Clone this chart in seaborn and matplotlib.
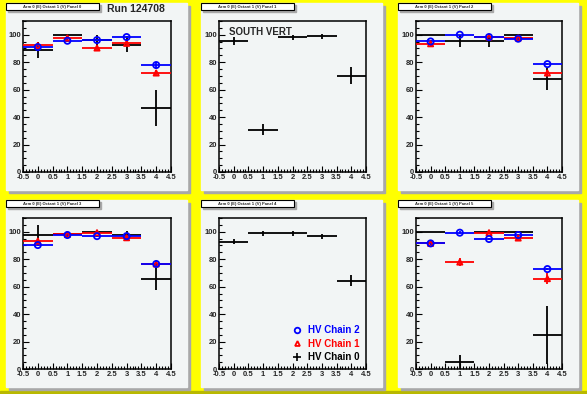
import numpy as np
import pandas as pd
import seaborn as sns
import matplotlib.pyplot as plt
from matplotlib.patches import Rectangle
from matplotlib.lines import Line2D
from matplotlib.ticker import MultipleLocator

# bin centres and axis labels
bins = [0, 1, 2, 3, 4]
x_ticks = [-0.5, 0, 0.5, 1, 1.5, 2, 2.5, 3, 3.5, 4, 4.5]
x_labels = ["-0.5", "0", "0.5", "1", "1.5", "2", "2.5", "3", "3.5", "4", "4.5"]
y_ticks = [0, 20, 40, 60, 80, 100]
pad_titles = ["Arm 0 (E) Octant 1 (V) Panel %d" % i for i in range(6)]
chain_labels = ["HV Chain 2", "HV Chain 1", "HV Chain 0"]

# HV chain 0 (black), one row per panel
chain0 = [[89.0, 100.0, 96.0, 92.7, 46.6],
          [95.6, 30.7, 98.0, 98.8, 70.2],
          [100.0, 95.4, 95.4, 100.0, 67.7],
          [97.6, 98.0, 100.0, 97.6, 65.5],
          [92.7, 98.8, 98.8, 96.6, 64.4],
          [100.0, 5.3, 100.0, 100.0, 24.8]]
chain0_err = [[6, 0, 4, 5, 13],
              [3, 4, 2, 2, 6],
              [0, 4.4, 4.4, 0, 8],
              [7, 2, 0, 3, 8],
              [2, 2, 2, 2, 4],
              [0, 5, 0, 0, 21]]

# HV chain 1 (red)
chain1 = [[92.2, 97.6, 90.3, 93.7, 72.1],
          None,
          [93.4, np.nan, 98.3, 97.6, 72.1],
          [93.2, 98.0, 99.3, 95.6, 76.5],
          None,
          [91.5, 77.9, 99.3, 95.4, 65.8]]
chain1_err = [[2, 2, 2, 2, 2.5],
              None,
              [2, 0, 1, 1, 2.5],
              [2, 1, 1, 2, 2],
              None,
              [1.5, 3, 1, 2, 4]]

# HV chain 2 (blue)
chain2 = [[91.0, 95.6, 96.1, 98.3, 77.9],
          None,
          [95.1, 100.0, 98.3, 97.1, 78.6],
          [90.3, 97.6, 96.8, 96.8, 76.5],
          None,
          [91.5, 99.3, 94.7, 97.6, 72.8]]
chain2_err = [[2, 1, 1, 1, 2],
              None,
              [1, 0, 1, 1, 1],
              [1, 1, 1, 1, 2],
              None,
              [1, 1, 1, 1, 1]]

W, H = 587, 394
sns.set_style("ticks")
plt.rcParams['font.family'] = ['Liberation Sans', 'DejaVu Sans']
plt.rcParams['font.weight'] = 'bold'

fig = plt.figure(figsize=(W / 100, H / 100), dpi=100)
fig.patch.set_facecolor('#ffff00')

def fr(x0, y0, x1, y1):
	# pixel box (top-left origin) -> figure fraction rect
	return [x0 / W, 1 - y1 / H, (x1 - x0) / W, (y1 - y0) / H]

def add_box(x0, y0, x1, y1, z, **kw):
	l, b, w, h = fr(x0, y0, x1, y1)
	fig.patches.append(Rectangle((l, b), w, h, transform=fig.transFigure, zorder=z, **kw))

# darker canvas border at bottom
add_box(0, H - 3, W, H, -3, color='#b8b800')

pad_x = [(6, 187), (201, 382), (398, 578)]
pad_y = [(3, 190), (200, 387)]
ax_x = [(23, 171), (219, 366), (416, 562)]
ax_y = [(21, 172), (218, 369)]

def draw_chain(ax, vals, errs, color, marker, size):
	if vals is None:
		return
	df = pd.DataFrame({"bin": bins, "eff": vals, "err": errs}).dropna()
	ax.errorbar(df["bin"], df["eff"], xerr=0.5, yerr=df["err"], fmt='none',
				ecolor=color, elinewidth=1.3, capsize=0, zorder=3)
	if marker is not None:
		sns.scatterplot(data=df, x="bin", y="eff", ax=ax, marker=marker, s=size,
						facecolor='none', edgecolor=color, linewidth=1.3, zorder=4, legend=False)

for i in range(6):
	r, c = divmod(i, 3)
	px0, px1 = pad_x[c]
	py0, py1 = pad_y[r]
	# pad shadow + pad
	add_box(px0 + 3, py0 + 3, px1 + 3, py1 + 3, -2, color='#a8a8a8')
	add_box(px0, py0, px1, py1, -1, color='#f2f5f5')
	# title box
	add_box(px0 + 2, py0 + 2, px0 + 95, py0 + 9, 1, color='#a8a8a8')
	add_box(px0, py0, px0 + 93, py0 + 7, 2, facecolor='white', edgecolor='black', linewidth=0.8)
	fig.text((px0 + 46.5) / W, 1 - (py0 + 3.8) / H, pad_titles[i], fontsize=3,
			 ha='center', va='center', zorder=3)

	ax = fig.add_axes(fr(ax_x[c][0], ax_y[r][0], ax_x[c][1], ax_y[r][1]))
	ax.set_facecolor('#f2f5f5')
	draw_chain(ax, chain0[i], chain0_err[i], 'black', None, 0)
	draw_chain(ax, chain1[i], chain1_err[i], 'red', '^', 14)
	draw_chain(ax, chain2[i], chain2_err[i], 'blue', 'o', 20)

	ax.set_xlim(-0.5, 4.5)
	ax.set_ylim(0, 110)
	ax.set_xticks(x_ticks)
	ax.set_xticklabels(x_labels)
	ax.set_yticks(y_ticks)
	ax.xaxis.set_minor_locator(MultipleLocator(0.1))
	ax.yaxis.set_minor_locator(MultipleLocator(5))
	ax.tick_params(which='both', direction='in', top=False, right=False,
				   labelsize=5.5, pad=1.5, width=0.8, color='black')
	ax.tick_params(which='major', length=4)
	ax.tick_params(which='minor', length=2)
	for lab in ax.get_xticklabels() + ax.get_yticklabels():
		lab.set_fontweight('bold')
	for s in ax.spines.values():
		s.set_linewidth(1.1)
		s.set_color('black')
	ax.set_xlabel("")
	ax.set_ylabel("")

	if i == 1:
		ax.text(0.07, 0.93, "SOUTH VERT", transform=ax.transAxes, fontsize=7,
				fontweight='bold', ha='left', va='center')
	if i == 4:
		handles = [Line2D([], [], color='blue', marker='o', mfc='none', ls='none', ms=4, mew=1.3),
				   Line2D([], [], color='red', marker='^', mfc='none', ls='none', ms=3.5, mew=1.3),
				   Line2D([], [], color='black', marker='+', ls='none', ms=6, mew=1.2)]
		ax.legend(handles, chain_labels, loc='lower right', frameon=False,
				  labelcolor=['blue', 'red', 'black'], handlelength=1.0, handletextpad=0.6,
				  labelspacing=0.35, borderaxespad=0.3, prop={'weight': 'bold', 'size': 7})

fig.text(107 / W, 1 - 9 / H, "Run 124708", fontsize=7.5, fontweight='bold', ha='left', va='center')

plt.savefig("out.png", dpi=100, facecolor=fig.get_facecolor())
